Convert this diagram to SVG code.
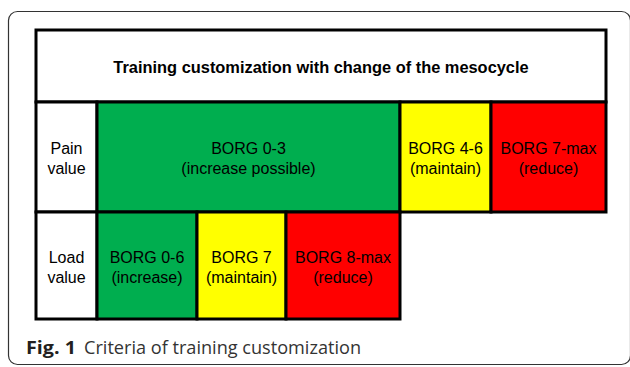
<svg xmlns="http://www.w3.org/2000/svg" width="630" height="367" viewBox="0 0 630 367">
  <style>
    .cell { stroke: #000; stroke-width: 3; }
    .white { fill: #fff; }
    .green { fill: #00ae4f; }
    .yellow { fill: #ffff00; }
    .red { fill: #ff0000; }
    .lbl { font-family: "Liberation Sans", Arial, sans-serif; font-size: 16px; fill: #000; text-anchor: middle; }
    .title { font-family: "Liberation Sans", Arial, sans-serif; font-size: 16.4px; font-weight: bold; fill: #000; text-anchor: middle; }
    .cap { font-family: "Open Sans", "DejaVu Sans", sans-serif; font-size: 18.5px; }
  </style>

  <!-- figure frame -->
  <rect x="8.5" y="11.5" width="622" height="353" rx="9" fill="#fff" stroke="#333" stroke-width="1.2"/>

  <!-- header row -->
  <g id="header">
    <rect class="cell white" x="36" y="30" width="570" height="72"/>
    <text class="title" x="321" y="72.5">Training customization with change of the mesocycle</text>
  </g>

  <!-- pain value row -->
  <g id="pain-label">
    <rect class="cell white" x="36" y="102" width="61" height="110"/>
    <text class="lbl" x="66.5" y="153.5">Pain</text>
    <text class="lbl" x="66.5" y="173.5">value</text>
  </g>
  <g id="pain-borg-0-3">
    <rect class="cell green" x="97" y="102" width="303" height="110"/>
    <text class="lbl" x="248.5" y="153.5">BORG 0-3</text>
    <text class="lbl" x="248.5" y="173.5">(increase possible)</text>
  </g>
  <g id="pain-borg-4-6">
    <rect class="cell yellow" x="400" y="102" width="91" height="110"/>
    <text class="lbl" x="445.5" y="153.5">BORG 4-6</text>
    <text class="lbl" x="445.5" y="173.5">(maintain)</text>
  </g>
  <g id="pain-borg-7-max">
    <rect class="cell red" x="491" y="102" width="115" height="110"/>
    <text class="lbl" x="548.5" y="153.5">BORG 7-max</text>
    <text class="lbl" x="548.5" y="173.5">(reduce)</text>
  </g>

  <!-- load value row -->
  <g id="load-label">
    <rect class="cell white" x="36" y="212" width="61" height="107"/>
    <text class="lbl" x="66.5" y="262.5">Load</text>
    <text class="lbl" x="66.5" y="282.5">value</text>
  </g>
  <g id="load-borg-0-6">
    <rect class="cell green" x="97" y="212" width="100" height="107"/>
    <text class="lbl" x="147" y="262.5">BORG 0-6</text>
    <text class="lbl" x="147" y="282.5">(increase)</text>
  </g>
  <g id="load-borg-7">
    <rect class="cell yellow" x="197" y="212" width="89" height="107"/>
    <text class="lbl" x="241.5" y="262.5">BORG 7</text>
    <text class="lbl" x="241.5" y="282.5">(maintain)</text>
  </g>
  <g id="load-borg-8-max">
    <rect class="cell red" x="286" y="212" width="114" height="107"/>
    <text class="lbl" x="343" y="262.5">BORG 8-max</text>
    <text class="lbl" x="343" y="282.5">(reduce)</text>
  </g>

  <!-- no connectors in this table -->
  <g id="connectors"/>

  <!-- caption -->
  <text class="cap" y="354"><tspan x="26" font-weight="bold" fill="#231f20" textLength="50" lengthAdjust="spacingAndGlyphs">Fig. 1</tspan><tspan x="84" fill="#333" textLength="277" lengthAdjust="spacingAndGlyphs">Criteria of training customization</tspan></text>
</svg>
